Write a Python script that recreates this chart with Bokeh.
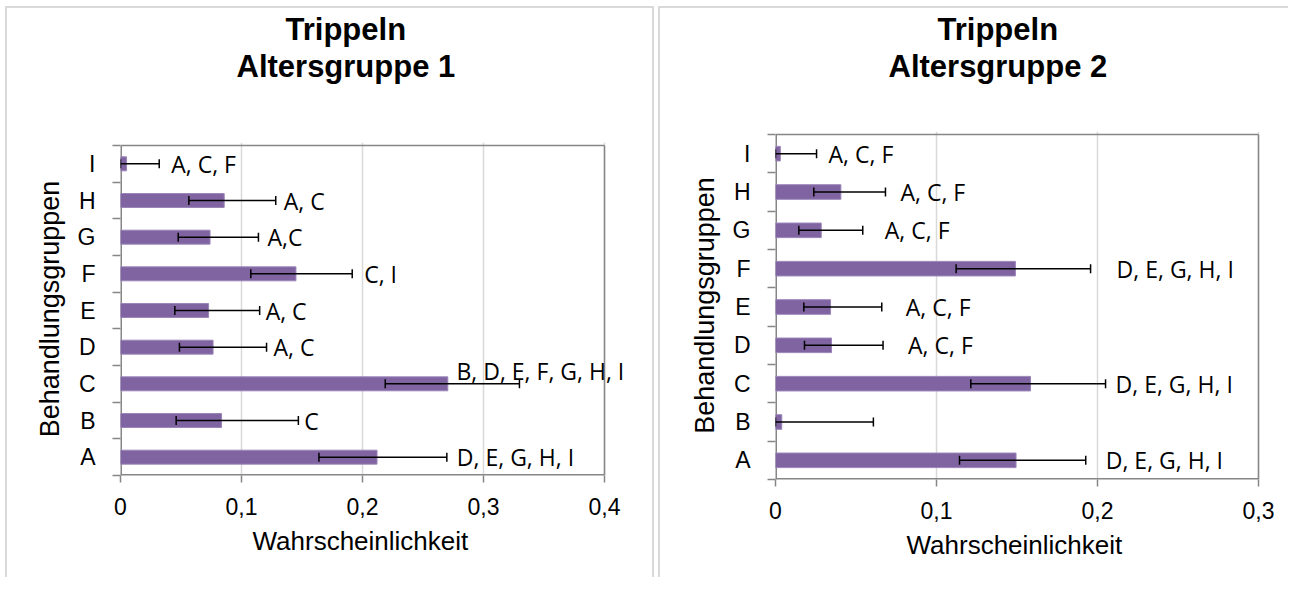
from bokeh.plotting import figure
from bokeh.layouts import row, column
from bokeh.models import (ColumnDataSource, Range1d, FixedTicker, CustomJSTickFormatter,
                          Whisker, TeeHead, LabelSet, Title)
from bokeh.core.properties import value
from bokeh.embed import file_html
from bokeh.resources import INLINE

# ---------------- data ----------------
categories = ["A", "B", "C", "D", "E", "F", "G", "H", "I"]

title1 = ["Trippeln", "Altersgruppe 1"]
title2 = ["Trippeln", "Altersgruppe 2"]
x_label = "Wahrscheinlichkeit"
y_label = "Behandlungsgruppen"

x_ticks1 = [0, 0.1, 0.2, 0.3, 0.4]
x_ticks2 = [0, 0.1, 0.2, 0.3]

mean1 = [0.212, 0.0835, 0.2705, 0.0765, 0.0728, 0.1450, 0.0740, 0.0857, 0.005]
low1 = [0.164, 0.046, 0.2188, 0.0487, 0.0449, 0.1077, 0.0477, 0.0565, 0.0]
high1 = [0.2697, 0.147, 0.3297, 0.1207, 0.1150, 0.1915, 0.1140, 0.1283, 0.032]
sig1 = ["D, E, G, H, I", "C", "B, D, E, F, G, H, I", "A, C", "A, C", "C, I",
        "A,C", "A, C", "A, C, F"]

mean2 = [0.1494, 0.0039, 0.1584, 0.0348, 0.0342, 0.1490, 0.0284, 0.0406, 0.003]
low2 = [0.1143, 0.0, 0.1213, 0.0180, 0.0176, 0.1122, 0.0145, 0.0238, 0.0]
high2 = [0.1927, 0.0608, 0.2050, 0.0668, 0.0660, 0.1957, 0.0542, 0.0683, 0.0255]
sig2 = ["D, E, G, H, I", "", "D, E, G, H, I", "A, C, F", "A, C, F", "D, E, G, H, I",
        "A, C, F", "A, C, F", "A, C, F"]

# ---------------- layout / style ----------------
lab_dx1 = [10, 6, -63, 7, 6, 12, 9, 8, 12]   # px offsets of significance labels
lab_dy1 = [0, 0, 13, 0, 0, 0, 0, 0, 0]
lab_dx2 = [20, 0, 10, 25, 24, 26, 22, 15, 12]
lab_dy2 = [0, 0, 0, 0, 0, 0, 0, 0, 0]

FIG_H = 577
TITLE2_BASELINE = 77   # baseline of the second title line (px from top)

BAR = "#8064A2"
BAR_EDGE = "#9a84b8"
AXIS_GRAY = "#868686"
GRID_GRAY = "#d9d9d9"
ARIAL = "Liberation Sans"


def make_panel(titles, means, lows, highs, sigs, dx, dy, xmax, xticks,
               fig_x0, width, L, R, T, B, frame_top, frame_bot, frame_right,
               title_left, xlabel_left, box_css):
    n = len(categories)
    kx = (R - L) / xmax
    ky = (B - T) / n
    xr = Range1d(0, (frame_right - L) / kx)
    yr = Range1d(-(frame_bot - B) / ky, n + (T - frame_top) / ky)

    ypos = [i + 0.5 for i in range(n)]
    src = ColumnDataSource(dict(y=ypos, mean=means, lo=lows, hi=highs,
                                lab=sigs, dx=dx, dy=dy))
    p = figure(width=width, height=FIG_H, output_backend="svg",
               toolbar_location=None, x_range=xr, y_range=yr,
               min_border_left=L - fig_x0,
               min_border_right=fig_x0 + width - frame_right,
               min_border_top=frame_top, min_border_bottom=FIG_H - frame_bot,
               border_fill_color=None, background_fill_color="white")
    p.styles = {"box-shadow": box_css}
    p.outline_line_color = None

    p.xgrid.ticker = FixedTicker(ticks=xticks[1:])
    p.xgrid.grid_line_color = GRID_GRAY
    p.xgrid.grid_line_width = 1.5
    p.ygrid.grid_line_color = None

    # plot-area border (left, bottom, top, right)
    edge_w = lambda on_edge: 3 if on_edge else 1.5
    p.segment(x0=[0, 0, 0, xmax], y0=[0, 0, n, 0], x1=[0, xmax, xmax, xmax],
              y1=[n, 0, n, n], line_color=AXIS_GRAY,
              line_width=[3, edge_w(B == frame_bot), edge_w(T == frame_top),
                          edge_w(R == frame_right)])

    p.hbar(y="y", right="mean", left=0, height=0.38, source=src,
           fill_color=BAR, line_color=BAR_EDGE, line_width=1)

    wh = Whisker(source=src, base="y", lower="lo", upper="hi", dimension="width",
                 line_color="black", line_width=1.5, level="annotation",
                 upper_head=TeeHead(size=9, line_color="black", line_width=1.5),
                 lower_head=TeeHead(size=9, line_color="black", line_width=1.5))
    p.add_layout(wh)

    ls = LabelSet(source=src, x="hi", y="y", text="lab", x_offset="dx", y_offset="dy",
                  text_font=value("Open Sans"), text_font_size=value("23px"),
                  text_color="black", text_align="left", text_baseline="middle")
    p.add_layout(ls)

    # titles: spacer (closest to frame), second line, then p.title (outermost)
    spacer = frame_top - 6 - TITLE2_BASELINE - 3
    p.add_layout(Title(text=" ", text_font_size="1px", standoff=spacer), "above")
    p.add_layout(Title(text=titles[1], align="left", offset=title_left[1] - L,
                       standoff=0, text_font=ARIAL, text_font_size="31px",
                       text_font_style="bold", text_color="black"), "above")
    p.title.text = titles[0]
    p.title.align = "left"
    p.title.offset = title_left[0] - L
    p.title.standoff = 0
    p.title.text_font = ARIAL
    p.title.text_font_size = "31px"
    p.title.text_font_style = "bold"
    p.title.text_color = "black"

    # x axis
    xa = p.xaxis[0]
    xa.ticker = FixedTicker(ticks=xticks)
    xa.formatter = CustomJSTickFormatter(
        code="return tick === 0 ? '0' : tick.toFixed(1).replace('.', ',');")
    xa.major_label_text_font = ARIAL
    xa.major_label_text_font_size = "23px"
    xa.major_label_text_color = "black"
    xa.major_label_standoff = 15
    xa.axis_line_color = None
    xa.major_tick_line_color = AXIS_GRAY
    xa.major_tick_line_width = 1.5
    xa.major_tick_out = 7
    xa.major_tick_in = 0
    xa.minor_tick_line_color = None
    p.add_layout(Title(text=x_label, align="left", offset=xlabel_left - L,
                       standoff=12, text_font=ARIAL, text_font_size="26px",
                       text_font_style="normal", text_color="black"), "below")

    # y axis
    ya = p.yaxis[0]
    ya.ticker = FixedTicker(ticks=ypos, minor_ticks=list(range(n + 1)))
    ya.formatter = CustomJSTickFormatter(args=dict(cats=categories),
                                         code="return cats[Math.floor(tick)];")
    ya.axis_label = y_label
    ya.axis_label_text_font = ARIAL
    ya.axis_label_text_font_size = "27px"
    ya.axis_label_text_font_style = "normal"
    ya.axis_label_text_color = "black"
    ya.axis_label_standoff = 10
    ya.major_label_text_font = ARIAL
    ya.major_label_text_font_size = "23px"
    ya.major_label_text_color = "black"
    ya.major_label_standoff = 17
    ya.axis_line_color = None
    ya.major_tick_line_color = None
    ya.major_tick_out = 0
    ya.major_tick_in = 0
    ya.minor_tick_line_color = AXIS_GRAY
    ya.minor_tick_line_width = 1.5
    ya.minor_tick_out = 8
    ya.minor_tick_in = 0
    return p


box1 = ("inset 5px 0 0 0 white, inset 0 6px 0 0 white, inset -2px 0 0 0 white, "
        "inset 7px 0 0 0 #d9d9d9, inset 0 8px 0 0 #d9d9d9, inset -4px 0 0 0 #d9d9d9")
box2 = ("inset 2px 0 0 0 white, inset 0 6px 0 0 white, "
        "inset 4px 0 0 0 #d9d9d9, inset 0 8px 0 0 #d9d9d9")

p1 = make_panel(title1, mean1, low1, high1, sig1, lab_dx1, lab_dy1, 0.4, x_ticks1,
                fig_x0=0, width=656, L=120, R=604, T=145, B=475,
                frame_top=142, frame_bot=475, frame_right=640,
                title_left=[285, 236], xlabel_left=252, box_css=box1)
p2 = make_panel(title2, mean2, low2, high2, sig2, lab_dx2, lab_dy2, 0.3, x_ticks2,
                fig_x0=656, width=632, L=775, R=1258, T=134, B=479,
                frame_top=131, frame_bot=479, frame_right=1264,
                title_left=[937, 888], xlabel_left=906, box_css=box2)

layout = row(column(p1), column(p2))
open("out.html", "w").write(file_html(layout, INLINE))
